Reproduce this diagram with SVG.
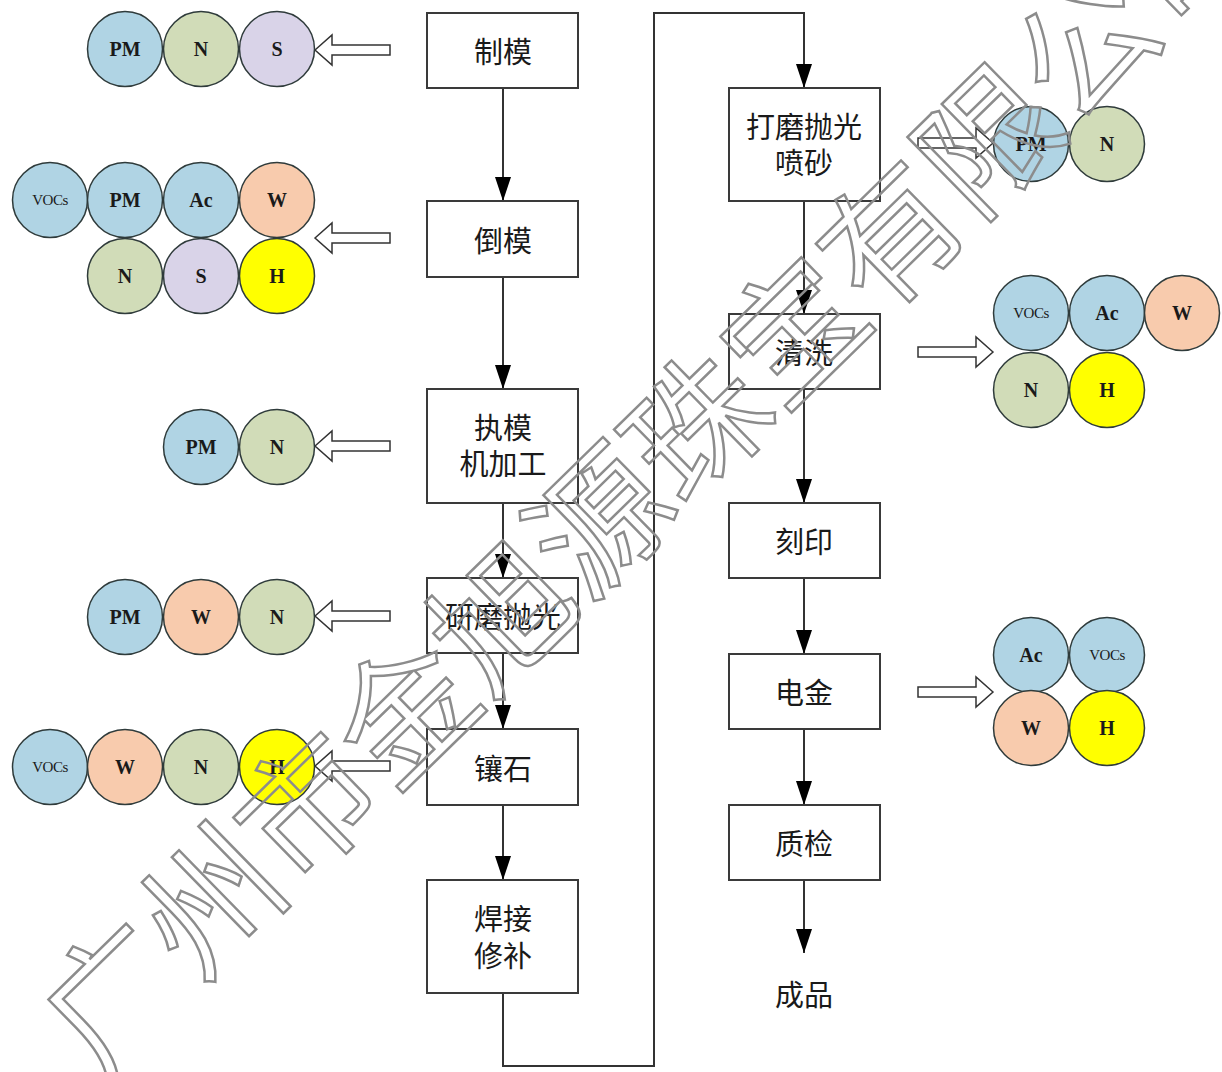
<svg xmlns="http://www.w3.org/2000/svg" width="1222" height="1072" viewBox="0 0 1222 1072">
<style>
.box{fill:#fff;stroke:#3a3a3a;stroke-width:2}
.lbl{font-family:"Noto Sans CJK SC","Noto Sans CJK JP",sans-serif;font-size:29px;fill:#1a1a1a;text-anchor:middle;dominant-baseline:central}
.ln{fill:none;stroke:#333;stroke-width:2}
.c{stroke:#2f3b3b;stroke-width:1.5}
.b{fill:#b0d4e4}.g{fill:#d1dcb8}.p{fill:#d9d3e8}.o{fill:#f8cbad}.y{fill:#ffff00}
.ct{font-family:"Liberation Serif",serif;font-weight:bold;font-size:20px;fill:#1a1a1a;text-anchor:middle;dominant-baseline:central}
.cs{font-family:"Liberation Serif",serif;font-size:15px;fill:#1a1a1a;text-anchor:middle;dominant-baseline:central;letter-spacing:-0.5px}
.ha{fill:#fff;stroke:#333;stroke-width:1.5}
.wm{font-family:"Noto Sans CJK SC",sans-serif;font-size:136px;fill:none;stroke:#8c8c8c;stroke-width:2.5}
</style>
<defs>
<marker id="ah" markerUnits="userSpaceOnUse" markerWidth="24" markerHeight="16" refX="24" refY="8" orient="auto">
<path d="M0,0 L24,8 L0,16 z" fill="#000"/>
</marker>
<path id="hl" d="M0,0 L17,-15 L17,-5 L75,-5 L75,5 L17,5 L17,15 z"/>
</defs>
<rect width="1222" height="1072" fill="#fff"/>

<g id="connectors">
<line class="ln" x1="503" y1="88" x2="503" y2="201" marker-end="url(#ah)"/>
<line class="ln" x1="503" y1="277" x2="503" y2="389" marker-end="url(#ah)"/>
<line class="ln" x1="503" y1="503" x2="503" y2="578" marker-end="url(#ah)"/>
<line class="ln" x1="503" y1="653" x2="503" y2="729" marker-end="url(#ah)"/>
<line class="ln" x1="503" y1="805" x2="503" y2="880" marker-end="url(#ah)"/>
<polyline class="ln" points="503,993 503,1066 654,1066 654,13 804,13 804,88" marker-end="url(#ah)"/>
<line class="ln" x1="804" y1="201" x2="804" y2="314" marker-end="url(#ah)"/>
<line class="ln" x1="804" y1="389" x2="804" y2="503" marker-end="url(#ah)"/>
<line class="ln" x1="804" y1="578" x2="804" y2="654" marker-end="url(#ah)"/>
<line class="ln" x1="804" y1="729" x2="804" y2="805" marker-end="url(#ah)"/>
<line class="ln" x1="804" y1="880" x2="804" y2="953" marker-end="url(#ah)"/>
<use href="#hl" class="ha" transform="translate(315,50)"/>
<use href="#hl" class="ha" transform="translate(315,238)"/>
<use href="#hl" class="ha" transform="translate(315,446)"/>
<use href="#hl" class="ha" transform="translate(315,616)"/>
<use href="#hl" class="ha" transform="translate(315,766)"/>
<use href="#hl" class="ha" transform="translate(993,143) scale(-1,1)"/>
<use href="#hl" class="ha" transform="translate(993,352) scale(-1,1)"/>
<use href="#hl" class="ha" transform="translate(993,692) scale(-1,1)"/>
</g>

<g id="n-zhimo"><rect class="box" x="427" y="13" width="151" height="75"/><text class="lbl" x="503" y="50">制模</text></g>
<g id="n-daomo"><rect class="box" x="427" y="201" width="151" height="76"/><text class="lbl" x="503" y="239">倒模</text></g>
<g id="n-zhimo2"><rect class="box" x="427" y="389" width="151" height="114"/><text class="lbl" x="503" y="426">执模<tspan x="503" dy="36">机加工</tspan></text></g>
<g id="n-yanmo"><rect class="box" x="427" y="578" width="151" height="75"/><text class="lbl" x="503" y="615">研磨抛光</text></g>
<g id="n-xiangshi"><rect class="box" x="427" y="729" width="151" height="76"/><text class="lbl" x="503" y="767">镶石</text></g>
<g id="n-hanjie"><rect class="box" x="427" y="880" width="151" height="113"/><text class="lbl" x="503" y="917">焊接<tspan x="503" dy="37">修补</tspan></text></g>
<g id="n-damo"><rect class="box" x="729" y="88" width="151" height="113"/><text class="lbl" x="804" y="125">打磨抛光<tspan x="804" dy="36">喷砂</tspan></text></g>
<g id="n-qingxi"><rect class="box" x="729" y="314" width="151" height="75"/><text class="lbl" x="804" y="351">清洗</text></g>
<g id="n-keyin"><rect class="box" x="729" y="503" width="151" height="75"/><text class="lbl" x="804" y="540">刻印</text></g>
<g id="n-dianjin"><rect class="box" x="729" y="654" width="151" height="75"/><text class="lbl" x="804" y="691">电金</text></g>
<g id="n-zhijian"><rect class="box" x="729" y="805" width="151" height="75"/><text class="lbl" x="804" y="842">质检</text></g>
<g id="n-chengpin"><text class="lbl" x="804" y="993">成品</text></g>

<g id="e-zhimo">
<circle class="c b" cx="125" cy="49" r="37.5"/><text class="ct" x="125" y="49">PM</text>
<circle class="c g" cx="201" cy="49" r="37.5"/><text class="ct" x="201" y="49">N</text>
<circle class="c p" cx="277" cy="49" r="37.5"/><text class="ct" x="277" y="49">S</text>
</g>
<g id="e-daomo">
<circle class="c b" cx="50" cy="200" r="37.5"/><text class="cs" x="50" y="200">VOCs</text>
<circle class="c b" cx="125" cy="200" r="37.5"/><text class="ct" x="125" y="200">PM</text>
<circle class="c b" cx="201" cy="200" r="37.5"/><text class="ct" x="201" y="200">Ac</text>
<circle class="c o" cx="277" cy="200" r="37.5"/><text class="ct" x="277" y="200">W</text>
<circle class="c g" cx="125" cy="276" r="37.5"/><text class="ct" x="125" y="276">N</text>
<circle class="c p" cx="201" cy="276" r="37.5"/><text class="ct" x="201" y="276">S</text>
<circle class="c y" cx="277" cy="276" r="37.5"/><text class="ct" x="277" y="276">H</text>
</g>
<g id="e-zhimo2">
<circle class="c b" cx="201" cy="447" r="37.5"/><text class="ct" x="201" y="447">PM</text>
<circle class="c g" cx="277" cy="447" r="37.5"/><text class="ct" x="277" y="447">N</text>
</g>
<g id="e-yanmo">
<circle class="c b" cx="125" cy="617" r="37.5"/><text class="ct" x="125" y="617">PM</text>
<circle class="c o" cx="201" cy="617" r="37.5"/><text class="ct" x="201" y="617">W</text>
<circle class="c g" cx="277" cy="617" r="37.5"/><text class="ct" x="277" y="617">N</text>
</g>
<g id="e-xiangshi">
<circle class="c b" cx="50" cy="767" r="37.5"/><text class="cs" x="50" y="767">VOCs</text>
<circle class="c o" cx="125" cy="767" r="37.5"/><text class="ct" x="125" y="767">W</text>
<circle class="c g" cx="201" cy="767" r="37.5"/><text class="ct" x="201" y="767">N</text>
<circle class="c y" cx="277" cy="767" r="37.5"/><text class="ct" x="277" y="767">H</text>
</g>
<g id="e-damo">
<circle class="c b" cx="1031" cy="144" r="37.5"/><text class="ct" x="1031" y="144">PM</text>
<circle class="c g" cx="1107" cy="144" r="37.5"/><text class="ct" x="1107" y="144">N</text>
</g>
<g id="e-qingxi">
<circle class="c b" cx="1031" cy="313" r="37.5"/><text class="cs" x="1031" y="313">VOCs</text>
<circle class="c b" cx="1107" cy="313" r="37.5"/><text class="ct" x="1107" y="313">Ac</text>
<circle class="c o" cx="1182" cy="313" r="37.5"/><text class="ct" x="1182" y="313">W</text>
<circle class="c g" cx="1031" cy="390" r="37.5"/><text class="ct" x="1031" y="390">N</text>
<circle class="c y" cx="1107" cy="390" r="37.5"/><text class="ct" x="1107" y="390">H</text>
</g>
<g id="e-dianjin">
<circle class="c b" cx="1031" cy="655" r="37.5"/><text class="ct" x="1031" y="655">Ac</text>
<circle class="c b" cx="1107" cy="655" r="37.5"/><text class="cs" x="1107" y="655">VOCs</text>
<circle class="c o" cx="1031" cy="728" r="37.5"/><text class="ct" x="1031" y="728">W</text>
<circle class="c y" cx="1107" cy="728" r="37.5"/><text class="ct" x="1107" y="728">H</text>
</g>

<g id="watermark">
<text class="wm" transform="translate(100,1080) rotate(-44.4)">广州市金旭源珠宝有限公司</text>
</g>
</svg>
